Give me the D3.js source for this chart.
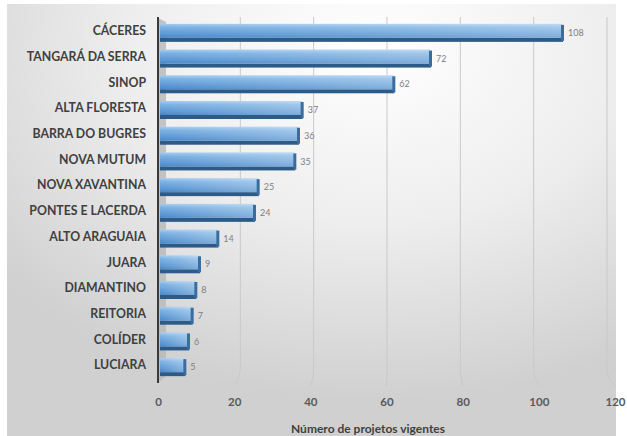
<!DOCTYPE html>
<html><head><meta charset="utf-8">
<script src="https://cdn.jsdelivr.net/npm/d3@7/dist/d3.min.js"></script>
<style>body{margin:0;background:#fff}svg{display:block}</style>
</head><body><svg id="c" width="627" height="436"></svg>
<script>
const categories = ["CÁCERES","TANGARÁ DA SERRA","SINOP","ALTA FLORESTA","BARRA DO BUGRES","NOVA MUTUM","NOVA XAVANTINA","PONTES E LACERDA","ALTO ARAGUAIA","JUARA","DIAMANTINO","REITORIA","COLÍDER","LUCIARA"];
const values = [108,72,62,37,36,35,25,24,14,9,8,7,6,5];
const ticks = [0,20,40,60,80,100,120];
const axisTitle = "Número de projetos vigentes";

const svg = d3.select("#c");
const defs = svg.append("defs");
const bg = defs.append("radialGradient").attr("id","bg").attr("cx","0.6").attr("cy","0.1").attr("r","0.8");
bg.append("stop").attr("offset","0").attr("stop-color","#ffffff");
bg.append("stop").attr("offset","0.5").attr("stop-color","#eeeeee");
bg.append("stop").attr("offset","1").attr("stop-color","#d0d0d0");
const bf = defs.append("linearGradient").attr("id","bf").attr("x1",0).attr("y1",0).attr("x2",0).attr("y2",1);
bf.append("stop").attr("offset","0").attr("stop-color","#a6cdf0");
bf.append("stop").attr("offset","0.25").attr("stop-color","#7cb1e2");
bf.append("stop").attr("offset","0.75").attr("stop-color","#5a97d4");
bf.append("stop").attr("offset","1").attr("stop-color","#4a86c4");
const bh = defs.append("linearGradient").attr("id","bh").attr("x1",0).attr("y1",0).attr("x2",1).attr("y2",0);
bh.append("stop").attr("offset","0").attr("stop-color","#ffffff").attr("stop-opacity",0);
bh.append("stop").attr("offset","1").attr("stop-color","#ffffff").attr("stop-opacity",0.3);

svg.append("rect").attr("x",7).attr("y",4).attr("width",609).attr("height",440).attr("fill","url(#bg)");

const x = d3.scaleLinear().domain([0,120]).range([158,615]);   // front (tick labels)
const xb = d3.scaleLinear().domain([0,120]).range([167,607]);  // back wall (bars, gridlines)
const y = d3.scaleBand().domain(categories).range([20,380]).paddingInner(0.3).paddingOuter(0.15);

// gridlines (back wall with perspective curve to front)
const gl = svg.append("g");
ticks.filter(t=>t>0).forEach(t=>{
  const p = d3.path();
  p.moveTo(xb(t),17); p.lineTo(xb(t),368);
  p.quadraticCurveTo(xb(t),378,x(t),386);
  gl.append("path").attr("d",p.toString()).attr("fill","none").attr("stroke","#c9c9c9").attr("stroke-width",1);
});
// side wall
svg.append("path").attr("d",`M${x(0)},18 L${x(0)+8},22 L${x(0)+8},376 L${x(0)},383 Z`).attr("fill","#b8b8b8").attr("opacity",0.8);
svg.append("line").attr("x1",x(0)).attr("x2",x(0)).attr("y1",17).attr("y2",383).attr("stroke","#3a3a3a").attr("stroke-width",2);

// bars
const bars = svg.append("g").selectAll("g").data(categories).join("g");
const h = y.bandwidth();
const x0 = x(0)+2;
bars.append("rect").attr("x",x0).attr("y",d=>y(d)+h-4).attr("width",(d,i)=>xb(values[i])-x0).attr("height",4).attr("fill","#2c5b88");
bars.append("rect").attr("x",x0).attr("y",d=>y(d)).attr("width",(d,i)=>xb(values[i])-x0-1).attr("height",h-4).attr("fill","url(#bf)");
bars.append("rect").attr("x",x0).attr("y",d=>y(d)).attr("width",(d,i)=>xb(values[i])-x0-1).attr("height",h-4).attr("fill","url(#bh)");
bars.append("rect").attr("x",(d,i)=>xb(values[i])-2).attr("y",d=>y(d)+1).attr("width",3).attr("height",h-2).attr("fill","#3a6d9f");
bars.append("text").attr("x",(d,i)=>xb(values[i])+5).attr("y",d=>y(d)+h/2).attr("dy","0.35em")
  .attr("font-family","Lato, sans-serif").attr("font-size",9).attr("fill","#7f7f7f").text((d,i)=>values[i]);

// category labels
svg.append("g").selectAll("text").data(categories).join("text")
  .attr("x",146).attr("y",d=>y(d)+h/2-2).attr("dy","0.35em").attr("text-anchor","end")
  .attr("font-family","Lato, sans-serif").attr("font-weight","bold").attr("font-size",12.3).attr("fill","#404040").text(d=>d);

// x axis ticks
const ax = d3.axisBottom(x).tickValues(ticks).tickSize(0).tickPadding(0);
const axg = svg.append("g").attr("transform","translate(0,398)").call(ax);
axg.select(".domain").remove();
axg.selectAll("text").attr("font-family","Lato, sans-serif").attr("font-size",11.5).attr("font-weight","bold").attr("fill","#595959").attr("dy","0.71em");

svg.append("text").attr("x",368).attr("y",433).attr("text-anchor","middle")
  .attr("font-family","Lato, sans-serif").attr("font-weight","bold").attr("font-size",12).attr("fill","#404040").text(axisTitle);
</script></body></html>
